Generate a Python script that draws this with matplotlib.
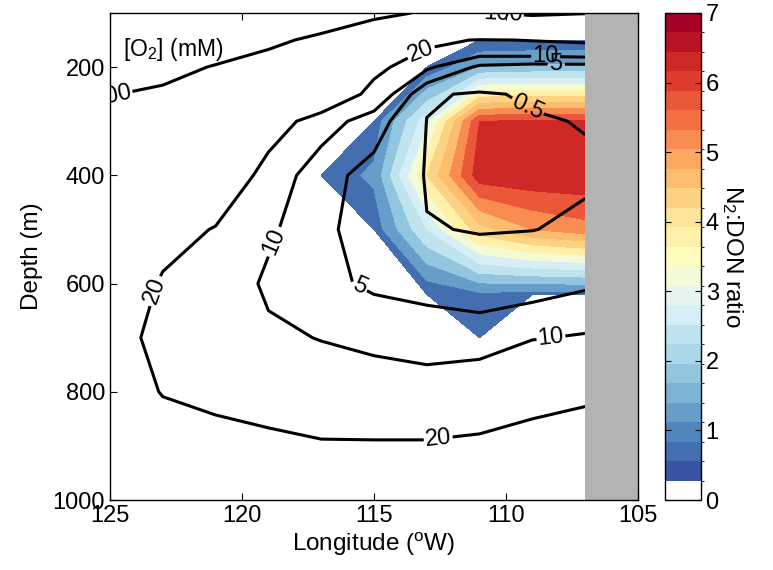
import numpy as np
import matplotlib.pyplot as plt
from matplotlib.colors import ListedColormap, BoundaryNorm, Normalize
from matplotlib.cm import ScalarMappable

plt.rcParams['font.family'] = ['Liberation Sans', 'DejaVu Sans']
plt.rcParams['mathtext.fontset'] = 'custom'
plt.rcParams['mathtext.rm'] = 'Liberation Sans'
plt.rcParams['mathtext.it'] = 'Liberation Sans:italic'

# section grid (longitude in degrees W, depth in m)
lon = [125, 123, 121, 119, 117, 115, 113, 111, 109, 107]
depth = [100, 150, 200, 250, 300, 400, 500, 600, 700, 800, 900, 1000]

# dissolved oxygen, one row per depth
o2 = [
    [150, 140, 135, 125, 125, 112, 95, 99, 108, 102],
    [130, 122, 120, 108, 92, 62, 24, 19, 20.5, 22],
    [115, 110, 98, 85, 60, 24, 11, 4, 3, 3],
    [101, 95, 80, 55, 35, 15, 0.8, 0.2, 0.8, 1.2],
    [90, 75, 62, 28, 13, 7, 0.45, 0.15, 0.3, 0.6],
    [70, 45, 35, 14, 6.5, 3.5, 0.3, 0.1, 0.1, 0.2],
    [50, 27, 19, 11, 6, 2.9, 0.6, 0.4, 0.45, 0.9],
    [35, 18, 14, 9, 6.5, 4, 3, 1.5, 2.5, 4.2],
    [27, 15, 13, 11, 9.8, 9, 8, 8, 9.7, 10.5],
    [26, 19.5, 18.5, 15, 13, 12, 12, 13, 17, 18.5],
    [28, 25, 22, 22.5, 21, 21, 21, 22, 23, 24],
    [30, 30, 26, 26, 26, 25, 26, 27, 28, 29],
]
o2_levels = [0.5, 5, 10, 20, 100]

# N2:DON ratio on the stations where it was measured
ratio_lon = [117, 115, 113, 111, 109, 107]
ratio_depth = [150, 200, 300, 400, 500, 620, 700]
nan = np.nan
ratio = [
    [nan, nan, nan, 0.6, 0.6, 0.6],
    [nan, nan, 0.6, 1.5, 1.6, 1.6],
    [nan, 0.7, 2.8, 6.0, 6.05, 6.05],
    [0.7, 1.1, 4.0, 6.3, 6.4, 6.4],
    [nan, 0.7, 2.5, 4.3, 5.0, 5.3],
    [nan, nan, 0.6, 0.9, 0.8, 0.8],
    [nan, nan, nan, 0.6, nan, nan],
]
ratio_levels = np.arange(0, 7.5, 0.5)
cbar_ticks = [0, 1, 2, 3, 4, 5, 6, 7]

# white for the lowest class, then a red-yellow-blue ramp
colors = np.vstack([[1, 1, 1, 1], plt.cm.RdYlBu_r(np.linspace(0.05, 1, 24))])
cmap = ListedColormap(colors)

fs = 17

fig = plt.figure(figsize=(7.73, 5.70), dpi=100)
ax = fig.add_axes([0.1423, 0.1228, 0.6831, 0.8544])
cax = fig.add_axes([0.8603, 0.1228, 0.0462, 0.8544])

ax.contourf(ratio_lon, ratio_depth, np.array(ratio), levels=ratio_levels,
            cmap=cmap, norm=Normalize(0, 7), zorder=1)

cs = ax.contour(lon, depth, np.array(o2), levels=o2_levels, colors='k',
                linewidths=2.2, zorder=2)
label_pos = [(124.9, 255), (110.1, 103), (113.3, 162), (123.5, 610),
             (112.6, 870), (108.5, 180), (118.9, 520), (108.3, 700),
             (108.1, 197), (115.7, 622), (109.3, 285)]
labels = ax.clabel(cs, fmt='%g', fontsize=fs, inline=True, inline_spacing=3,
                   manual=label_pos)
for t in labels:
    t.set_clip_on(True)

# no data east of 107W
ax.axvspan(107, 105, color='0.7', lw=0, zorder=3)

ax.text(124.5, 168, '[O$_2$] (mM)', fontsize=16.5, va='center', ha='left')

ax.set_xlim(125, 105)
ax.set_ylim(1000, 100)
ax.set_xticks([125, 120, 115, 110, 105])
ax.set_yticks([200, 400, 600, 800, 1000])
ax.tick_params(direction='in', top=True, right=True, length=5, width=0.8,
               labelsize=fs)
for s in ax.spines.values():
    s.set_linewidth(1.0)
    s.set_zorder(4)
ax.set_xlabel('Longitude ($^{\\mathrm{o}}$W)', fontsize=17.5, labelpad=3)
ax.set_ylabel('Depth (m)', fontsize=17.5, labelpad=7)

sm = ScalarMappable(norm=BoundaryNorm(np.linspace(0, 7, 26), 25), cmap=cmap)
cb = fig.colorbar(sm, cax=cax, ticks=cbar_ticks)
cb.ax.tick_params(direction='in', left=True, right=True, length=4,
                  labelsize=fs)
cb.outline.set_linewidth(1.0)
cb.set_label('N$_2$:DON ratio', rotation=270, fontsize=17.5, labelpad=19)

fig.savefig('out.png', dpi=100)
